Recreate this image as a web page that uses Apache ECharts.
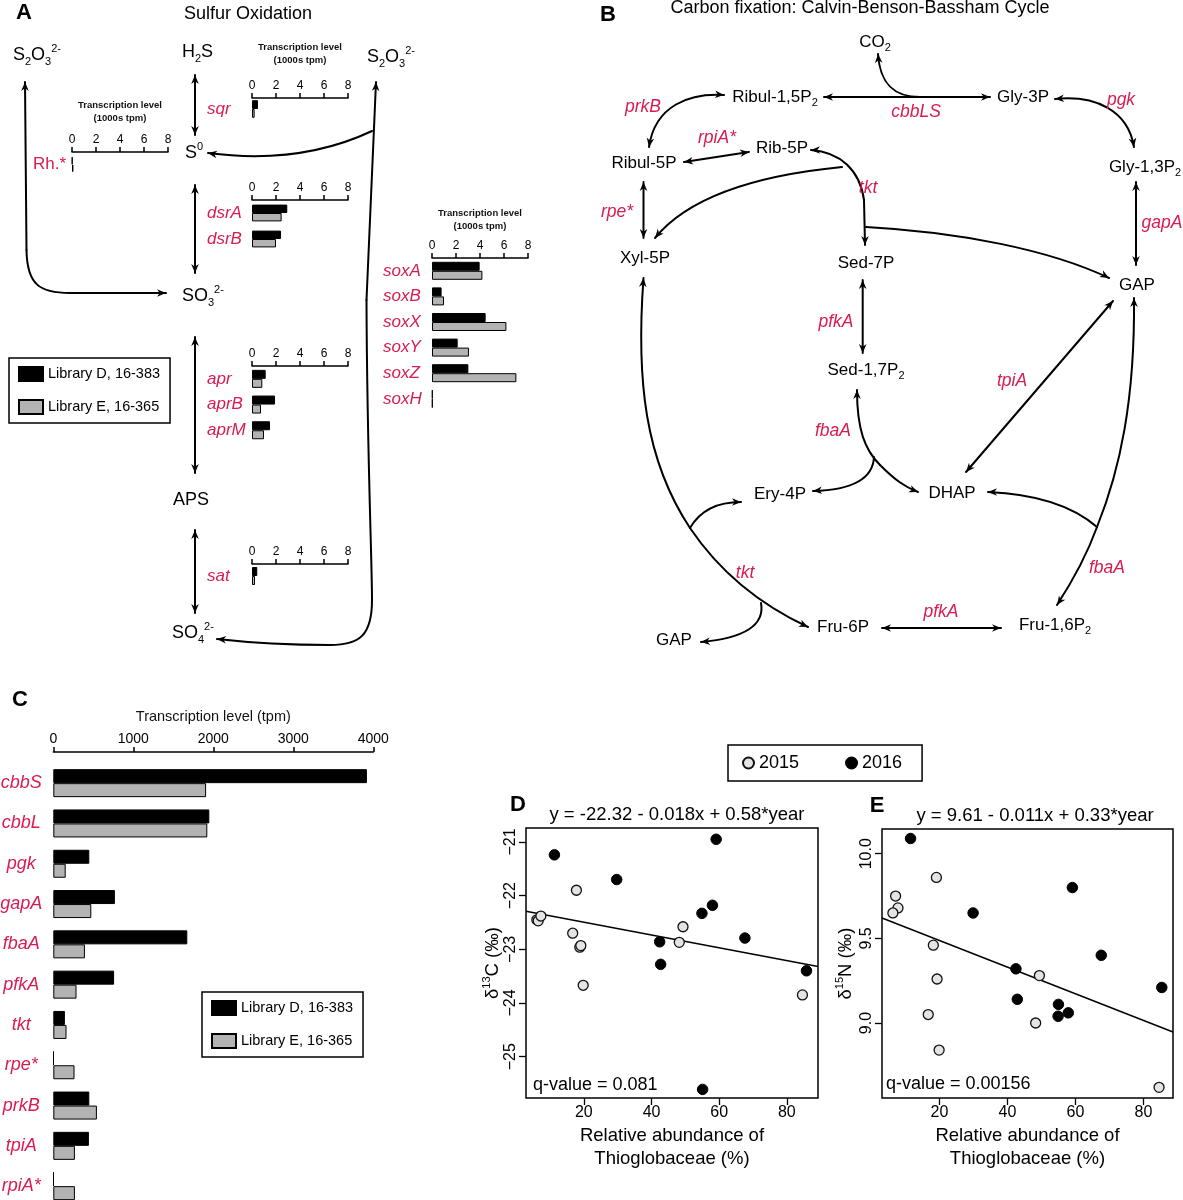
<!DOCTYPE html>
<html><head><meta charset="utf-8">
<script src="https://cdn.jsdelivr.net/npm/echarts@6/dist/echarts.min.js"></script>
<style>html,body{margin:0;padding:0;background:#fff}#c{width:1183px;height:1200px}</style>
</head><body><div id="c"></div>
<script>
// ---------------- DATA ----------------
const libNames = ['Library D, 16-383', 'Library E, 16-365'];
// Panel A: transcription level (1000s tpm)
const aTicks = [0, 2, 4, 6, 8];
const rhGenes = ['Rh.*'];              const rhD = [0.03];            const rhE = [0.12];
const sqrGenes = ['sqr'];              const sqrD = [0.5];            const sqrE = [0.22];
const dsrGenes = ['dsrA', 'dsrB'];     const dsrD = [2.94, 2.42];     const dsrE = [2.47, 2.0];
const aprGenes = ['apr', 'aprB', 'aprM']; const aprD = [1.14, 1.92, 1.5]; const aprE = [0.86, 0.75, 1.0];
const satGenes = ['sat'];              const satD = [0.44];           const satE = [0.25];
const soxGenes = ['soxA', 'soxB', 'soxX', 'soxY', 'soxZ', 'soxH'];
const soxD = [3.97, 0.8, 4.47, 2.14, 3.03, 0.05];
const soxE = [4.2, 1.0, 6.2, 3.08, 7.03, 0.05];
// Panel C: transcription level (tpm)
const cTicks = [0, 1000, 2000, 3000, 4000];
const cGenes = ['cbbS', 'cbbL', 'pgk', 'gapA', 'fbaA', 'pfkA', 'tkt', 'rpe*', 'prkB', 'tpiA', 'rpiA*'];
const cD = [3920, 1950, 450, 770, 1675, 760, 145, 5, 450, 445, 5];
const cE = [1910, 1925, 155, 475, 395, 290, 165, 265, 545, 270, 270];
// Panels D / E
const yearNames = ['2015', '2016'];
const xTicksDE = [20, 40, 60, 80];
const dYTicks = [-25, -24, -23, -22, -21];
const eYTicks = [9.0, 9.5, 10.0];
const d2015 = [[6.1,-22.45],[6.5,-22.47],[7.3,-22.38],[17.8,-21.90],[16.7,-22.70],[18.8,-22.96],[19.1,-22.93],[49.3,-22.58],[48.2,-22.87],[19.8,-23.67],[84.6,-23.85]];
const d2016 = [[11.3,-21.24],[29.7,-21.70],[59.1,-20.95],[58.0,-22.18],[54.9,-22.33],[42.4,-22.86],[42.7,-23.28],[67.6,-22.79],[85.8,-23.40],[55.1,-25.61]];
const dFit = [[2.9,-22.29],[89.2,-23.32]];
const e2015 = [[19.1,9.86],[7.1,9.75],[7.8,9.68],[6.3,9.65],[18.2,9.46],[19.3,9.26],[49.4,9.28],[16.7,9.05],[48.3,9.00],[19.9,8.84],[84.6,8.62]];
const e2016 = [[11.5,10.09],[29.9,9.65],[59.1,9.80],[67.6,9.40],[42.5,9.32],[85.4,9.21],[42.9,9.14],[55.0,9.11],[54.9,9.04],[57.9,9.06]];
const eFit = [[3.1,9.62],[88.7,8.947]];

// ---------------- STYLE / LAYOUT ----------------
const FONT = '"Liberation Sans", Arial, Helvetica, sans-serif';
const RED = '#d81b50';
const GRAY = '#b3b3b3';
const grids = [], xAxes = [], yAxes = [], series = [];

function addBarPanel(c) {
  const gi = grids.length;
  grids.push({left: c.left, top: c.top, width: c.width, height: c.bandH * c.genes.length, outerBoundsMode: 'none', containLabel: false});
  xAxes.push({
    gridIndex: gi, type: 'value', position: 'top', offset: c.xOffset || 0,
    min: c.ticks[0], max: c.ticks[c.ticks.length - 1], interval: c.ticks[1] - c.ticks[0],
    axisLine: {show: true, onZero: false, lineStyle: {color: '#000', width: 1.5}},
    axisTick: {show: true, length: 5, lineStyle: {color: '#000', width: 1.5}},
    axisLabel: {fontSize: c.tickFont, color: '#000', margin: c.tickMargin || 6, fontFamily: FONT, formatter: v => String(v)},
    splitLine: {show: false},
    name: c.name || '', nameLocation: 'middle', nameGap: c.nameGap || 0, nameMoveOverlap: false,
    nameTextStyle: {fontSize: c.nameSize || 9.5, fontWeight: c.nameWeight || 'bold', color: '#111', lineHeight: c.nameLH || 13, fontFamily: FONT}
  });
  yAxes.push({
    gridIndex: gi, type: 'category', inverse: true, data: c.genes,
    axisLine: {show: false}, axisTick: {show: false}, splitLine: {show: false},
    axisLabel: {interval: 0, color: RED, fontStyle: c.italic === false ? 'normal' : 'italic', fontSize: c.labelSize, align: c.labelAlign, margin: c.labelMargin, fontFamily: FONT}
  });
  series.push({type: 'bar', name: libNames[0], xAxisIndex: gi, yAxisIndex: gi, data: c.d, barWidth: c.barW, barGap: '0%',
    itemStyle: {color: '#000', borderColor: '#000', borderWidth: 1}, silent: true});
  series.push({type: 'bar', name: libNames[1], xAxisIndex: gi, yAxisIndex: gi, data: c.e, barWidth: c.barW, barGap: '0%',
    itemStyle: {color: GRAY, borderColor: '#000', borderWidth: 1}, silent: true});
}
const aTitle = 'Transcription level\n(1000s tpm)';
const aBase = {width: 96, ticks: aTicks, tickFont: 12, labelSize: 17, labelAlign: 'left'};
addBarPanel(Object.assign({}, aBase, {genes: rhGenes, d: rhD, e: rhE, left: 72, top: 152, bandH: 25, barW: 7.5, labelMargin: 39, italic: false, name: aTitle, nameGap: 27}));
addBarPanel(Object.assign({}, aBase, {genes: sqrGenes, d: sqrD, e: sqrE, left: 252, top: 98, bandH: 22, barW: 8.8, labelMargin: 45, name: aTitle, nameGap: 31}));
addBarPanel(Object.assign({}, aBase, {genes: dsrGenes, d: dsrD, e: dsrE, left: 252, top: 200, bandH: 26, barW: 8.4, labelMargin: 45}));
addBarPanel(Object.assign({}, aBase, {genes: aprGenes, d: aprD, e: aprE, left: 252, top: 366, bandH: 25.7, barW: 9, labelMargin: 45}));
addBarPanel(Object.assign({}, aBase, {genes: satGenes, d: satD, e: satE, left: 252, top: 564, bandH: 24, barW: 9, labelMargin: 45}));
addBarPanel(Object.assign({}, aBase, {genes: soxGenes, d: soxD, e: soxE, left: 432, top: 258, bandH: 25.6, barW: 9, labelMargin: 49, name: aTitle, nameGap: 25}));
// Panel C
addBarPanel({genes: cGenes, d: cD, e: cE, left: 53.3, top: 763, width: 320, bandH: 40.3, barW: 14, xOffset: 11,
  ticks: cTicks, tickFont: 14, tickMargin: 6, labelSize: 18, labelAlign: 'center', labelMargin: 32,
  name: 'Transcription level (tpm)', nameGap: 27, nameSize: 14.5, nameWeight: 'normal', nameLH: 17});

function addScatter(c) {
  const gi = grids.length;
  grids.push({left: c.left, top: c.top, width: c.width, height: c.height, show: true, borderColor: '#000', borderWidth: 1.5, backgroundColor: 'transparent', outerBoundsMode: 'none', containLabel: false});
  xAxes.push({
    gridIndex: gi, type: 'value', position: 'bottom', min: c.xMin, max: c.xMax,
    axisLine: {show: false, onZero: false},
    axisTick: {show: true, length: 7, customValues: xTicksDE, lineStyle: {color: '#000', width: 1.3}},
    axisLabel: {customValues: xTicksDE, fontSize: 16, color: '#000', margin: 7, fontFamily: FONT},
    splitLine: {show: false},
    name: 'Relative abundance of\nThioglobaceae (%)', nameLocation: 'middle', nameGap: 26, nameMoveOverlap: false,
    nameTextStyle: {fontSize: 18.5, lineHeight: 23, color: '#000', fontFamily: FONT}
  });
  yAxes.push({
    gridIndex: gi, type: 'value', min: c.yMin, max: c.yMax,
    axisLine: {show: false, onZero: false},
    axisTick: {show: true, length: 7, customValues: c.yTicks, lineStyle: {color: '#000', width: 1.3}},
    axisLabel: {customValues: c.yTicks, rotate: 90, fontSize: 16, color: '#000', margin: 7, fontFamily: FONT, formatter: c.fmt},
    splitLine: {show: false},
    name: c.yName, nameLocation: 'middle', nameGap: c.nameGap, nameRotate: 90, nameMoveOverlap: false,
    nameTextStyle: {fontSize: 18.5, color: '#000', fontFamily: FONT,
      rich: {a: {fontSize: 18.5, color: '#000', fontFamily: FONT, lineHeight: 24}, s: {fontSize: 11, color: '#000', fontFamily: FONT, verticalAlign: 'top', lineHeight: 12}}}
  });
  series.push({type: 'line', xAxisIndex: gi, yAxisIndex: gi, data: c.fit, symbol: 'none', silent: true, z: 1, lineStyle: {color: '#000', width: 1.5}});
  series.push({type: 'scatter', name: yearNames[0], xAxisIndex: gi, yAxisIndex: gi, data: c.s15, symbol: 'circle', symbolSize: 10, z: 3, silent: true,
    itemStyle: {color: '#e4e4e4', borderColor: '#111', borderWidth: 1.3, opacity: 1}});
  series.push({type: 'scatter', name: yearNames[1], xAxisIndex: gi, yAxisIndex: gi, data: c.s16, symbol: 'circle', symbolSize: 10.5, z: 3, silent: true,
    itemStyle: {color: '#000', borderColor: '#000', borderWidth: 1, opacity: 1}});
}
addScatter({left: 526, top: 828, width: 292, height: 270, xMin: 2.9, xMax: 89.2, yMin: -25.77, yMax: -20.74, yTicks: dYTicks,
  fmt: v => (v < 0 ? '\u2212' : '') + Math.abs(v), yName: '{a|δ}{s|13}{a|C (‰)}', nameGap: 21, fit: dFit, s15: d2015, s16: d2016});
addScatter({left: 882, top: 829, width: 291, height: 269, xMin: 3.1, xMax: 88.7, yMin: 8.557, yMax: 10.146, yTicks: eYTicks,
  fmt: v => Number(v).toFixed(1), yName: '{a|δ}{s|15}{a|N (‰)}', nameGap: 24, fit: eFit, s15: e2015, s16: e2016});

// ---------------- DIAGRAM GRAPHICS ----------------
const G = [];
function head(tip, from) {
  const dx = tip[0] - from[0], dy = tip[1] - from[1], L = Math.hypot(dx, dy) || 1, ux = dx / L, uy = dy / L;
  const len = 9, w = 3.8;
  const bx = tip[0] - ux * len, by = tip[1] - uy * len;
  G.push({type: 'polygon', silent: true, z: 11, shape: {points: [[tip[0], tip[1]], [bx - uy * w, by + ux * w], [tip[0] - ux * len * 0.7, tip[1] - uy * len * 0.7], [bx + uy * w, by - ux * w]]}, style: {fill: '#000'}});
}
function P(d, heads) {
  const tk = d.match(/[MLCQ]|-?\d*\.?\d+/g);
  let i = 0, cx = 0, cy = 0, cmd = 'M';
  const num = () => parseFloat(tk[i++]);
  const st = {stroke: '#000', lineWidth: 2, fill: 'none', lineCap: 'round'};
  while (i < tk.length) {
    if (/[MLCQ]/.test(tk[i])) cmd = tk[i++];
    if (cmd === 'M') { cx = num(); cy = num(); }
    else if (cmd === 'L') { const x = num(), y = num(); G.push({type: 'line', silent: true, z: 10, shape: {x1: cx, y1: cy, x2: x, y2: y}, style: st}); cx = x; cy = y; }
    else if (cmd === 'Q') { const a = num(), b = num(), x = num(), y = num(); G.push({type: 'bezierCurve', silent: true, z: 10, shape: {x1: cx, y1: cy, cpx1: a, cpy1: b, x2: x, y2: y}, style: st}); cx = x; cy = y; }
    else if (cmd === 'C') { const a = num(), b = num(), c2 = num(), d2 = num(), x = num(), y = num(); G.push({type: 'bezierCurve', silent: true, z: 10, shape: {x1: cx, y1: cy, cpx1: a, cpy1: b, cpx2: c2, cpy2: d2, x2: x, y2: y}, style: st}); cx = x; cy = y; }
  }
  (heads || []).forEach(h => head(h[0], h[1]));
}
function dbl(x1, y1, x2, y2) { P(`M${x1} ${y1} L${x2} ${y2}`, [[[x1, y1], [x2, y2]], [[x2, y2], [x1, y1]]]); }
function chem(fs) {
  const s = Math.round(fs * 0.62);
  return {n: {fontSize: fs, fontFamily: FONT, fill: '#000', lineHeight: fs + 6},
          d: {fontSize: s, fontFamily: FONT, fill: '#000', verticalAlign: 'bottom', lineHeight: s},
          u: {fontSize: s, fontFamily: FONT, fill: '#000', verticalAlign: 'top', lineHeight: s}};
}
function T(x, y, text, o) {
  G.push({type: 'text', x: x, y: y, silent: true, z: 12, style: Object.assign({text: text, fontSize: 17, fontFamily: FONT, fill: '#000', align: 'center', verticalAlign: 'middle'}, o || {})});
}
function N(x, y, text, fs, align) { T(x, y, text, {rich: chem(fs), align: align || 'center'}); }
function R(x, y, text) { T(x, y, text, {fill: RED, fontStyle: 'italic', fontSize: 17.5}); }

// Panel letters & headings
T(24, 13, 'A', {fontWeight: 'bold', fontSize: 22});
T(608, 15, 'B', {fontWeight: 'bold', fontSize: 22});
T(20, 700, 'C', {fontWeight: 'bold', fontSize: 22});
T(518, 805, 'D', {fontWeight: 'bold', fontSize: 22});
T(877, 806, 'E', {fontWeight: 'bold', fontSize: 22});
T(248, 14, 'Sulfur Oxidation', {fontSize: 18});
T(860, 8, 'Carbon fixation: Calvin-Benson-Bassham Cycle', {fontSize: 18});
T(677, 815, 'y = -22.32 - 0.018x + 0.58*year', {fontSize: 18.5});
T(1035, 816, 'y = 9.61 - 0.011x + 0.33*year', {fontSize: 18.5});
T(533, 1085, 'q-value = 0.081', {fontSize: 18, align: 'left'});
T(886, 1084, 'q-value = 0.00156', {fontSize: 18, align: 'left'});

// Panel A nodes
N(13, 55, '{n|S}{d|2}{n|O}{d|3}{u|2-}', 18, 'left');
N(182, 52, '{n|H}{d|2}{n|S}', 18, 'left');
N(367, 57, '{n|S}{d|2}{n|O}{d|3}{u|2-}', 18, 'left');
N(185, 153, '{n|S}{u|0}', 18, 'left');
N(182, 296, '{n|SO}{d|3}{u|2-}', 18, 'left');
N(173, 500, '{n|APS}', 18, 'left');
N(172, 633, '{n|SO}{d|4}{u|2-}', 18, 'left');
// Panel A arrows
dbl(195, 75, 195, 135);
dbl(195, 185, 195, 273);
dbl(195, 337, 195, 473);
dbl(195, 530, 195, 613);
P('M25 82 L26.5 250 C27 285 40 293 70 293 L166 293', [[[25, 82], [25, 95]], [[166, 293], [155, 293]]]);
P('M376 82 L366.5 300 C367 450 372 560 372 600 C372 635 360 645 330 645 Q270 645 217 639', [[[376, 82], [375.5, 94]], [[217, 639], [229, 640]]]);
P('M372 131 Q300 165 208 153', [[[208, 153], [220, 155]]]);

// Panel B nodes
N(875, 42, '{n|CO}{d|2}', 17);
N(775, 97, '{n|Ribul-1,5P}{d|2}', 17);
N(1023, 97, '{n|Gly-3P}', 17);
N(782, 148, '{n|Rib-5P}', 17);
N(644, 163, '{n|Ribul-5P}', 17);
N(1145, 167, '{n|Gly-1,3P}{d|2}', 17);
N(645, 258, '{n|Xyl-5P}', 17);
N(866, 263, '{n|Sed-7P}', 17);
N(1137, 285, '{n|GAP}', 17);
N(866, 370, '{n|Sed-1,7P}{d|2}', 17);
N(780, 494, '{n|Ery-4P}', 17);
N(952, 493, '{n|DHAP}', 17);
N(843, 627, '{n|Fru-6P}', 17);
N(1055, 625, '{n|Fru-1,6P}{d|2}', 17);
N(674, 640, '{n|GAP}', 17);
// Panel B enzyme labels
R(643, 107, 'prkB'); R(916, 112, 'cbbLS'); R(1121, 100, 'pgk'); R(717, 138, 'rpiA*');
R(868, 188, 'tkt'); R(617, 212, 'rpe*'); R(1162, 223, 'gapA'); R(836, 322, 'pfkA');
R(1012, 381, 'tpiA'); R(833, 431, 'fbaA'); R(1107, 568, 'fbaA'); R(745, 573, 'tkt'); R(941, 612, 'pfkA');
// Panel B arrows
P('M920 97 C895 97 880 85 878 54', [[[878, 54], [879, 66]]]);
dbl(824, 97, 990, 97);
P('M724 95 C690 93 655 105 649 147', [[[724, 95], [712, 94]], [[649, 147], [651, 135]]]);
P('M1055 99 C1095 95 1128 110 1134 147', [[[1055, 99], [1067, 98]], [[1134, 147], [1132, 135]]]);
dbl(684, 162, 749, 152);
dbl(643.5, 182, 643.5, 238);
P('M811 150 C840 152 860 170 864 200 L865 245', [[[811, 150], [822, 150]], [[865, 245], [865, 233]]]);
P('M842 167 C760 175 690 195 655 238', [[[655, 238], [664, 227]]]);
P('M866 227 C960 232 1050 250 1109 278', [[[1109, 278], [1098, 272]]]);
dbl(1136, 182, 1136, 265);
dbl(862.7, 280, 862.7, 353);
dbl(1113, 301, 966, 472);
P('M1134 298 C1135 400 1120 470 1097 527 C1085 560 1070 585 1057 605', [[[1134, 298], [1134, 310]], [[1057, 605], [1064, 595]]]);
P('M1097 527 Q1060 495 988 492', [[[988, 492], [1000, 492]]]);
P('M857 390 C857 430 865 450 880 465 C895 480 905 487 918 492', [[[857, 390], [857, 402]], [[918, 492], [908, 488]]]);
P('M874 457 C873 480 850 490 813 491', [[[813, 491], [825, 490]]]);
P('M643.5 278 C636 380 645 460 690 528 C715 565 750 600 808 627', [[[643.5, 278], [642.5, 290]], [[808, 627], [797, 622]]]);
P('M690 528 Q705 502 741 502', [[[741, 502], [730, 502]]]);
P('M761 603 C765 625 745 638 701 642', [[[701, 642], [712, 641]]]);
dbl(882, 628, 1001, 628);

// ---------------- OPTION ----------------
const legBase = {orient: 'vertical', selectedMode: false, icon: 'rect', itemWidth: 24, itemHeight: 14, itemGap: 17,
  padding: [8, 10, 8, 9], borderColor: '#000', borderWidth: 1.5, backgroundColor: '#fff',
  textStyle: {fontSize: 14.5, color: '#000', fontFamily: FONT}};
const option = {
  animation: false,
  backgroundColor: '#fff',
  textStyle: {fontFamily: FONT},
  grid: grids, xAxis: xAxes, yAxis: yAxes, series: series,
  legend: [
    Object.assign({}, legBase, {data: libNames, left: 9, top: 358}),
    Object.assign({}, legBase, {data: libNames, left: 202, top: 992}),
    {data: yearNames, left: 728, top: 745, orient: 'horizontal', selectedMode: false, icon: 'circle', itemWidth: 11, itemHeight: 11, itemGap: 46,
     padding: [9, 20, 9, 14], borderColor: '#000', borderWidth: 1.5, textStyle: {fontSize: 18, color: '#000', fontFamily: FONT}}
  ],
  graphic: {elements: G}
};
const chart = echarts.init(document.getElementById('c'));
chart.setOption(option);
</script></body></html>
